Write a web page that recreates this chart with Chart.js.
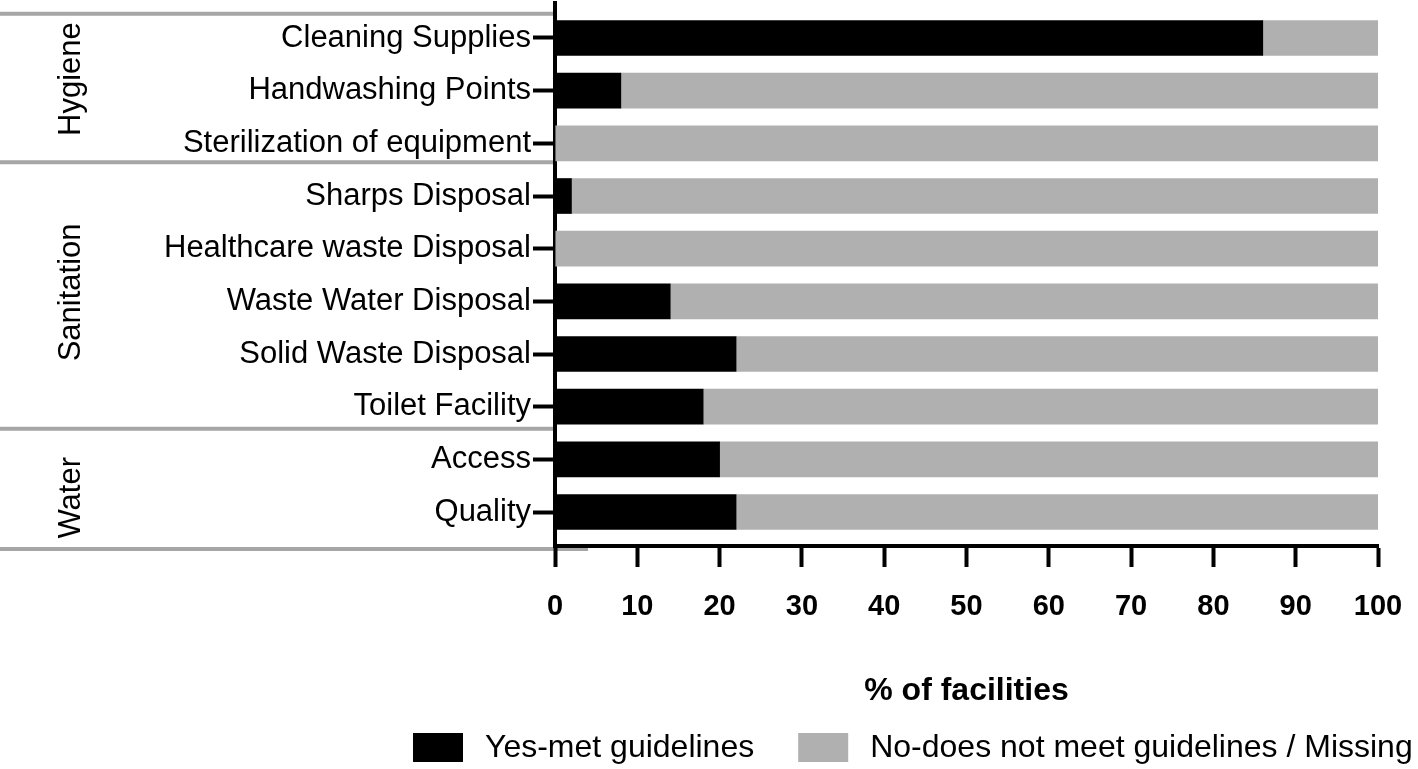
<!DOCTYPE html>
<html>
<head>
<meta charset="utf-8">
<script src="https://cdn.jsdelivr.net/npm/chart.js@4/dist/chart.umd.min.js"></script>
<style>
  html, body { margin: 0; padding: 0; background: #fff; }
  #wrap { width: 1418px; height: 769px; }
</style>
</head>
<body>
<div id="wrap"><canvas id="washChart"></canvas></div>
<script>
// categories, top to bottom
var categories = ['Cleaning Supplies', 'Handwashing Points', 'Sterilization of equipment',
    'Sharps Disposal', 'Healthcare waste Disposal', 'Waste Water Disposal',
    'Solid Waste Disposal', 'Toilet Facility', 'Access', 'Quality'];
var yesMet = [86, 8, 0, 2, 0, 14, 22, 18, 20, 22];
var notMet = [14, 92, 100, 98, 100, 86, 78, 82, 80, 78];
var xTicks = [0, 10, 20, 30, 40, 50, 60, 70, 80, 90, 100];
var groupNames = ['Hygiene', 'Sanitation', 'Water'];

var FONT = "'Liberation Sans', Arial, Helvetica, sans-serif";

// separators and group label centres, in row units of the y scale
var sepRows = [-0.46, 2.36, 7.42, 9.7];
var labelRows = [0.78, 4.83, 8.73];

var groupPlugin = {
    id: 'groups',
    beforeDraw: function(chart) {
        var ctx = chart.ctx;
        var y = chart.scales.y;
        ctx.save();
        ctx.strokeStyle = '#a6a6a6';
        ctx.lineWidth = 4;
        sepRows.forEach(function(r, i) {
            var py = y.getPixelForValue(r);
            ctx.beginPath();
            ctx.moveTo(0, py);
            ctx.lineTo(i === sepRows.length - 1 ? 588 : 553, py);
            ctx.stroke();
        });
        ctx.fillStyle = '#000';
        ctx.font = '31px ' + FONT;
        ctx.textAlign = 'center';
        ctx.textBaseline = 'alphabetic';
        groupNames.forEach(function(name, i) {
            ctx.save();
            ctx.translate(80, y.getPixelForValue(labelRows[i]));
            ctx.rotate(-Math.PI / 2);
            ctx.fillText(name, 0, 0);
            ctx.restore();
        });
        ctx.restore();
    }
};

// legend drawn below the axis title, boxes 50x29
var legendPlugin = {
    id: 'bottomLegend',
    afterDraw: function(chart) {
        var ctx = chart.ctx;
        var x = 413, top = 733;
        ctx.save();
        ctx.font = '32px ' + FONT;
        ctx.textBaseline = 'middle';
        ctx.textAlign = 'left';
        chart.data.datasets.forEach(function(ds) {
            ctx.fillStyle = ds.backgroundColor;
            ctx.fillRect(x, top, 50, 29);
            ctx.fillStyle = '#000';
            ctx.fillText(ds.label, x + 72, top + 15);
            x += 72 + ctx.measureText(ds.label).width + 44;
        });
        ctx.restore();
    }
};

function toPoints(arr) {
    return arr.map(function(v, i) { return { x: v, y: i }; });
}

var ctx = document.getElementById('washChart').getContext('2d');
new Chart(ctx, {
    type: 'bar',
    data: {
        datasets: [{
            label: 'Yes-met guidelines',
            data: toPoints(yesMet),
            backgroundColor: '#000000',
            borderWidth: 0,
            barThickness: 35
        }, {
            label: 'No-does not meet guidelines / Missing',
            data: toPoints(notMet),
            backgroundColor: '#b0b0b0',
            borderWidth: 0,
            barThickness: 35
        }]
    },
    options: {
        indexAxis: 'y',
        responsive: true,
        maintainAspectRatio: false,
        animation: false,
        layout: { padding: { top: 3, left: 0, right: 0, bottom: 46 } },
        scales: {
            x: {
                type: 'linear',
                stacked: true,
                min: 0,
                max: 100,
                offset: false,
                afterBuildTicks: function(axis) {
                    axis.ticks = xTicks.map(function(v) { return { value: v }; });
                },
                afterFit: function(scale) {
                    scale.height = 177;
                    scale.paddingLeft = 0;
                    scale.paddingRight = 0;
                },
                grid: { offset: false, drawOnChartArea: false, drawTicks: true, tickLength: 21,
                        tickWidth: 4, tickColor: '#000', color: '#000' },
                border: { display: true, color: '#000', width: 4 },
                ticks: { color: '#000', padding: 23, font: { family: FONT, size: 29, weight: 'bold' } },
                title: {
                    display: true,
                    text: '% of facilities',
                    color: '#000',
                    font: { family: FONT, size: 32, weight: 'bold' },
                    padding: { top: 0, bottom: 13 }
                }
            },
            y: {
                type: 'linear',
                stacked: true,
                reverse: true,
                offset: false,
                min: -0.6645,
                max: 9.645,
                afterBuildTicks: function(axis) {
                    axis.ticks = categories.map(function(c, i) { return { value: i }; });
                },
                afterFit: function(scale) {
                    scale.width = 555;
                    scale.paddingTop = 0;
                    scale.paddingBottom = 0;
                },
                grid: { offset: false, drawOnChartArea: false, drawTicks: true, tickLength: 22,
                        tickWidth: 4, tickColor: '#000', color: '#000' },
                border: { display: true, color: '#000', width: 4 },
                ticks: {
                    color: '#000',
                    padding: 2,
                    font: { family: FONT, size: 31 },
                    callback: function(v) { return categories[v]; }
                }
            },
            yR: {
                type: 'linear',
                position: 'right',
                display: true,
                afterFit: function(scale) { scale.width = 40; },
                grid: { display: false },
                border: { display: false },
                ticks: { display: false }
            }
        },
        plugins: {
            legend: { display: false },
            tooltip: { enabled: false }
        }
    },
    plugins: [groupPlugin, legendPlugin]
});
</script>
</body>
</html>
